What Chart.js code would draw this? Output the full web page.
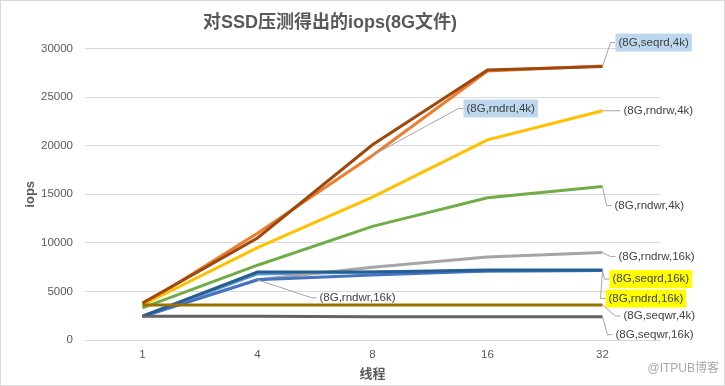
<!DOCTYPE html>
<html>
<head>
<meta charset="utf-8">
<script src="https://cdn.jsdelivr.net/npm/chart.js@4/dist/chart.umd.min.js"></script>
<style>
  body { margin: 0; background: #fff; }
  canvas { display: block; }
</style>
</head>
<body>
<canvas id="chart-area" width="725" height="386"></canvas>
<script>
// x categories (threads)
var threads = ['1', '4', '8', '16', '32'];

// iops per series
var rndrd16k = [2400, 6800, 7000, 7100, 7150];
var rndrd4k  = [3600, 11000, 19000, 27700, 28200];
var rndrw16k = [2450, 6200, 7500, 8550, 9000];
var rndrw4k  = [3600, 9500, 14700, 20600, 23600];
var rndwr16k = [2400, 6200, 6700, 7100, 7150];
var rndwr4k  = [3300, 7700, 11700, 14650, 15800];
var seqrd16k = [2450, 7000, 7000, 7200, 7200];
var seqrd4k  = [3800, 10500, 20100, 27800, 28150];
var seqwr16k = [2450, 2450, 2400, 2400, 2400];
var seqwr4k  = [3600, 3600, 3600, 3600, 3600];

var seriesNames = ['(8G,rndrd,16k)', '(8G,rndrd,4k)', '(8G,rndrw,16k)', '(8G,rndrw,4k)', '(8G,rndwr,16k)',
                   '(8G,rndwr,4k)', '(8G,seqrd,16k)', '(8G,seqrd,4k)', '(8G,seqwr,16k)', '(8G,seqwr,4k)'];
var seriesData = [rndrd16k, rndrd4k, rndrw16k, rndrw4k, rndwr16k, rndwr4k, seqrd16k, seqrd4k, seqwr16k, seqwr4k];
var colors = ['#5B9BD5', '#ED7D31', '#A5A5A5', '#FFC000', '#4472C4',
              '#70AD47', '#255E91', '#9E480E', '#636363', '#997300'];

// where each series carries its callout label: [series index, point index, dx, dy, background]
var callouts = [
  [7, 4, 16, -24, '#BDD7EE'],
  [1, 2, 94, -47, '#BDD7EE'],
  [3, 4, 21, 0, null],
  [5, 4, 12, 19, null],
  [2, 4, 16, 4, null],
  [6, 4, 10, 9, '#FFFF00'],
  [0, 4, 6, 28, '#FFFF00'],
  [9, 4, 21, 11, null],
  [8, 4, 13, 18, null],
  [4, 1, 62, 18, null]
];

var FONT = '"Liberation Sans", "Noto Sans CJK SC", sans-serif';

var calloutPlugin = {
  id: 'callouts',
  beforeDraw: function(chart) {
    var ctx = chart.ctx;
    ctx.save();
    ctx.fillStyle = '#fff';
    ctx.fillRect(0, 0, chart.width, chart.height);
    ctx.strokeStyle = '#D9D9D9';
    ctx.lineWidth = 1;
    ctx.strokeRect(0.5, 0.5, chart.width - 1, chart.height - 1);
    ctx.restore();
  },
  afterDatasetsDraw: function(chart) {
    var ctx = chart.ctx;
    ctx.save();
    ctx.font = '11.5px ' + FONT;
    ctx.textBaseline = 'middle';
    callouts.forEach(function(c) {
      var pt = chart.getDatasetMeta(c[0]).data[c[1]];
      var txt = seriesNames[c[0]];
      var tx = pt.x + c[2], ty = pt.y + c[3];
      var w = ctx.measureText(txt).width;
      ctx.strokeStyle = '#A6A6A6';
      ctx.lineWidth = 1;
      ctx.beginPath();
      ctx.moveTo(pt.x, pt.y);
      ctx.lineTo(tx - 8, ty);
      ctx.lineTo(tx - 3, ty);
      ctx.stroke();
      if (c[4]) {
        ctx.fillStyle = c[4];
        ctx.fillRect(tx - 3, ty - 9, w + 6, 18);
      }
      ctx.fillStyle = '#404040';
      ctx.fillText(txt, tx, ty);
    });
    // watermark
    ctx.font = '12px ' + FONT;
    ctx.fillStyle = '#a8a8a8';
    ctx.textAlign = 'right';
    ctx.fillText('@ITPUB博客', 719, 369);
    ctx.restore();
  }
};

var datasets = seriesData.map(function(d, i) {
  return {
    label: seriesNames[i],
    data: d,
    borderColor: colors[i],
    backgroundColor: colors[i],
    borderWidth: 3,
    pointRadius: 0,
    tension: 0,
    order: 10 - i
  };
});

var config = {
  type: 'line',
  data: { labels: threads, datasets: datasets },
  options: {
    responsive: false,
    animation: false,
    layout: { padding: { left: 0, right: 65, top: 0, bottom: 0 } },
    plugins: {
      legend: { display: false },
      tooltip: { enabled: false },
      title: {
        display: true,
        text: '对SSD压测得出的iops(8G文件)',
        color: '#595959',
        font: { family: FONT, size: 18, weight: 'bold' },
        padding: { top: 12, bottom: 15 }
      }
    },
    scales: {
      x: {
        offset: true,
        grid: { display: false, drawTicks: false },
        border: { color: '#D9D9D9' },
        ticks: { color: '#595959', font: { family: FONT, size: 11.5 }, padding: 8 },
        title: {
          display: true, text: '线程', color: '#595959',
          font: { family: FONT, size: 13, weight: 'bold' },
          padding: { top: 4, bottom: 4 }
        },
        afterFit: function(s) { s.height = 46; }
      },
      y: {
        min: 0, max: 30000,
        grid: { color: '#D9D9D9', drawTicks: false },
        border: { display: false },
        ticks: {
          stepSize: 5000, color: '#595959', font: { family: FONT, size: 11.5 }, padding: 12,
          callback: function(v) { return String(v); }
        },
        title: {
          display: true, text: 'iops', color: '#595959',
          font: { family: FONT, size: 13, weight: 'bold' },
          padding: { top: 23, bottom: 4 }
        },
        afterFit: function(s) { s.width = 85; }
      }
    }
  },
  plugins: [calloutPlugin]
};

var ctx = document.getElementById('chart-area').getContext('2d');
window.myLine = new Chart(ctx, config);
</script>
</body>
</html>
